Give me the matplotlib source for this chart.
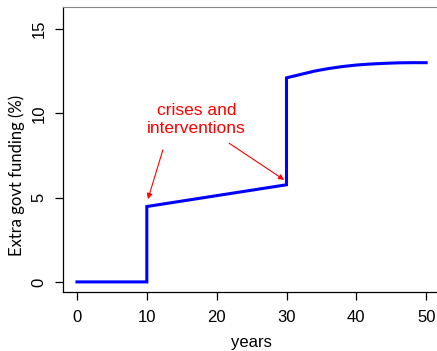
import matplotlib
matplotlib.use("Agg")
import matplotlib.pyplot as plt

# values
years = [0, 10, 10, 30, 30, 32, 34, 36, 38, 40, 42, 44, 46, 48, 50]
funding = [0, 0, 4.47, 5.76, 12.1, 12.3, 12.5, 12.65, 12.77, 12.86, 12.92, 12.96, 12.99, 13.0, 13.0]
xticks = [0, 10, 20, 30, 40, 50]
yticks = [0, 5, 10, 15]

plt.rcParams['font.family'] = ['Liberation Sans', 'DejaVu Sans']

fig = plt.figure(figsize=(4.37, 3.51), dpi=100)
ax = fig.add_axes([0.1442, 0.168, 0.863, 0.812])

ax.plot(years, funding, color='#0000ff', lw=2.2, solid_joinstyle='miter')

ax.set_xlim(-2, 52)
ax.set_ylim(-0.6, 16.3)
ax.set_xticks(xticks)
ax.set_yticks(yticks)
ax.tick_params(axis='both', direction='out', length=6, width=0.9, labelsize=12)
ax.tick_params(axis='x', pad=7)
ax.tick_params(axis='y', pad=6)
for lab in ax.get_yticklabels():
    lab.set_rotation(90)
    lab.set_va('center')

ax.spines['top'].set_color('#888888')
ax.spines['right'].set_visible(False)
for s in ['left', 'bottom']:
    ax.spines[s].set_linewidth(0.9)

ax.set_xlabel('years', fontsize=12, labelpad=7)
ax.set_ylabel('Extra govt funding (%)', fontsize=12, family=['Lato', 'DejaVu Sans'])
ax.yaxis.set_label_coords(-0.1, 0.41)

ax.text(17.1, 9.65, 'crises and\ninterventions', color='red', fontsize=12.5,
        ha='center', va='center', linespacing=1.25)
arrow = dict(arrowstyle='-|>', color='red', lw=0.8, mutation_scale=8, shrinkA=0, shrinkB=0)
ax.annotate('', xy=(10.16, 4.91), xytext=(12.3, 7.83), arrowprops=arrow)
ax.annotate('', xy=(29.66, 6.05), xytext=(21.8, 8.22), arrowprops=arrow)

fig.savefig('out.png', dpi=100)
